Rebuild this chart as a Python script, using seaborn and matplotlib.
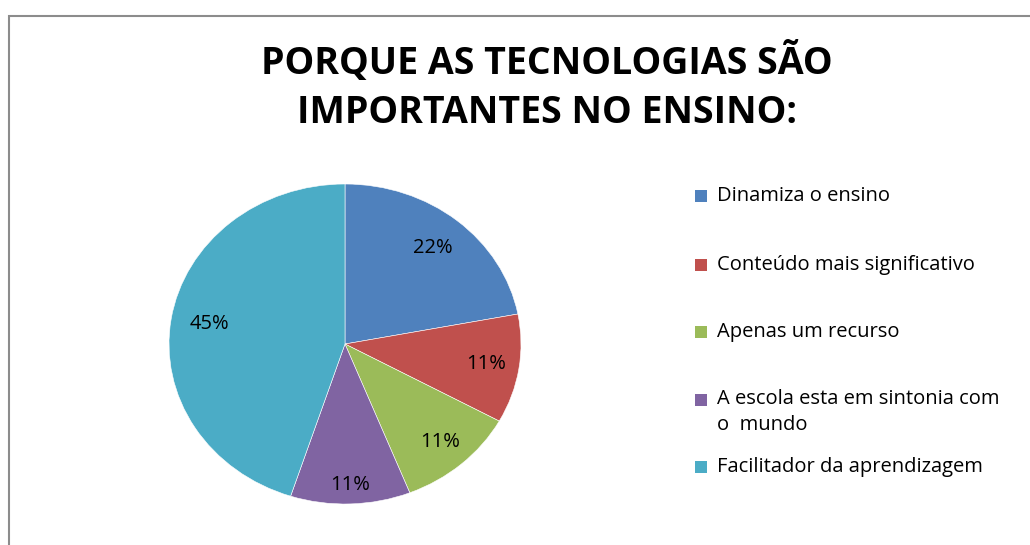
import matplotlib
matplotlib.use("Agg")
import matplotlib.pyplot as plt
from matplotlib.patches import Rectangle
import numpy as np
import seaborn as sns

# data
categories = [
    "Dinamiza o ensino",
    "Conteúdo mais significativo",
    "Apenas um recurso",
    "A escola esta em sintonia com\no  mundo",
    "Facilitador da aprendizagem",
]
percentages = [22, 11, 11, 11, 45]
pct_labels = ["22%", "11%", "11%", "11%", "45%"]
slice_colors = ["#4F81BD", "#C0504D", "#9BBB59", "#8064A2", "#4BACC6"]

title = "PORQUE AS TECNOLOGIAS SÃO\nIMPORTANTES NO ENSINO:"

sns.set_theme(style="white")
plt.rcParams["font.family"] = ["Open Sans", "DejaVu Sans"]

W, H = 1030, 545
fig = plt.figure(figsize=(W / 100, H / 100), dpi=100)
fig.patch.set_facecolor("white")

# chart border (only top and left edges visible in the crop)
border = Rectangle((9 / W, -0.1), 1.2, (H - 15.5) / H + 0.1, transform=fig.transFigure,
                   fill=False, edgecolor="#8c8c8c", linewidth=1.5)
fig.patches.append(border)

palette = sns.color_palette(slice_colors)

# pie axes in pixel box: x 169..521, y 184..504 (slightly wider than tall)
ax = fig.add_axes([169 / W, 1 - 504 / H, 352 / W, 320 / H])
wedges, _ = ax.pie(percentages, colors=palette, startangle=90, counterclock=False,
                   radius=1, wedgeprops=dict(edgecolor="white", linewidth=0.4))
ax.set_aspect("auto")
ax.set_xlim(-1, 1)
ax.set_ylim(-1, 1)
ax.axis("off")

# percentage labels at the middle of each slice
angles = []
start = 90.0
for p in percentages:
    sweep = p / sum(percentages) * 360
    angles.append(start - sweep / 2)
    start -= sweep
for a, lab, r in zip(angles, pct_labels, [0.78, 0.81, 0.82, 0.88, 0.78]):
    ax.text(r * np.cos(np.radians(a)), r * np.sin(np.radians(a)), lab,
            ha="center", va="center", fontsize=14.5, color="black")

fig.text(547 / W, 1 - 87 / H, title, ha="center", va="center", fontsize=27,
         fontweight="bold", linespacing=1.36, color="black")

# legend drawn by hand to match the spacing
legend_y = [196, 265, 332, 400, 467]
for lab, col, y in zip(categories, palette, legend_y):
    fig.patches.append(Rectangle((695 / W, 1 - (y + 6) / H), 12 / W, 12 / H,
                                 transform=fig.transFigure, facecolor=col, edgecolor="none"))
    if "\n" in lab:
        fig.text(717 / W, 1 - (y - 11) / H, lab, ha="left", va="top",
                 fontsize=14.5, color="black", linespacing=1.4)
    else:
        fig.text(717 / W, 1 - y / H, lab, ha="left", va="center",
                 fontsize=14.5, color="black")

fig.savefig("out.png", dpi=100, facecolor="white")
